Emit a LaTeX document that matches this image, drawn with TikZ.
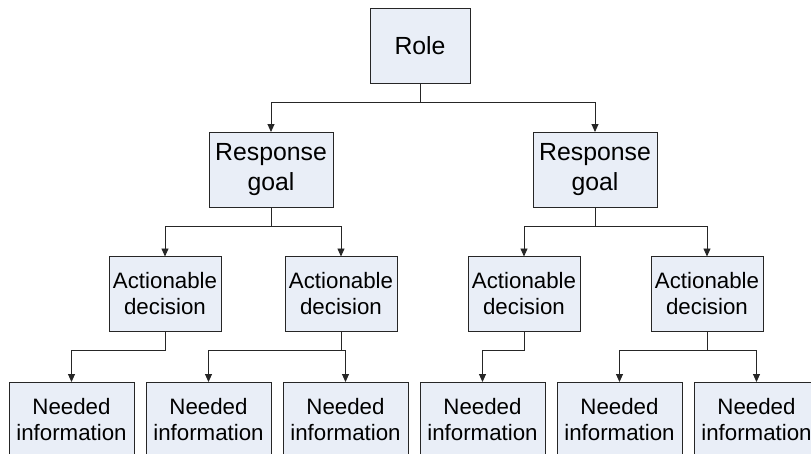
\documentclass[tikz,border=0pt]{standalone}
\usepackage{fontspec}
\setmainfont{Liberation Sans}
\usetikzlibrary{positioning,arrows.meta}
\definecolor{boxfill}{RGB}{233,238,247}
\tikzset{box/.style={draw=black!85, line width=0.9pt, fill=boxfill, align=center, inner sep=0pt, outer sep=0pt, minimum height=75pt},
  bigtext/.style={font=\fontsize{24.8}{29.5}\selectfont},
  smalltext/.style={font=\fontsize{22.3}{26}\selectfont},
  link/.style={draw=black!85, line width=0.9pt},
  arrow/.style={link, -{Triangle[width=7pt,length=8pt]}}}

\begin{document}
\begin{tikzpicture}[x=1pt,y=-1pt]
  \useasboundingbox (0,0) rectangle (811,453);
  \clip (0,0) rectangle (811,453);
  \node[box, bigtext, minimum width=100pt] (role) at (420,45.5) {Role};
  \node[box, bigtext, minimum width=124pt] (goalA) at (271,169.5) {Response\\goal};
  \node[box, bigtext, minimum width=124pt] (goalB) at (595,169.5) {Response\\goal};
  \node[box, smalltext, minimum width=112pt] (decA) at (165,294) {Actionable\\decision};
  \node[box, smalltext, minimum width=112pt] (decB) at (341,294) {Actionable\\decision};
  \node[box, smalltext, minimum width=112pt] (decC) at (524,294) {Actionable\\decision};
  \node[box, smalltext, minimum width=112pt] (decD) at (707,294) {Actionable\\decision};
  \node[box, smalltext, minimum width=125pt] (infoA) at (71.5,419.5) {Needed\\information};
  \node[box, smalltext, minimum width=125pt, right=12pt of infoA] (infoB) {Needed\\information};
  \node[box, smalltext, minimum width=125pt, right=12pt of infoB] (infoC) {Needed\\information};
  \node[box, smalltext, minimum width=125pt, right=12pt of infoC] (infoD) {Needed\\information};
  \node[box, smalltext, minimum width=125pt, right=12pt of infoD] (infoE) {Needed\\information};
  \node[box, smalltext, minimum width=125pt, right=12pt of infoE] (infoF) {Needed\\information};

  \draw[arrow] (role.south) -- ++(0,19) -| (goalA.north);
  \draw[arrow] (role.south) -- ++(0,19) -| (goalB.north);
  \draw[arrow] (goalA.south) -- ++(0,19) -| (decA.north);
  \draw[arrow] (goalA.south) -- ++(0,19) -| (decB.north);
  \draw[arrow] (goalB.south) -- ++(0,19) -| (decC.north);
  \draw[arrow] (goalB.south) -- ++(0,19) -| (decD.north);
  \draw[arrow] (decA.south) -- ++(0,19) -| (infoA.north);
  \draw[arrow] (decB.south) -- ++(0,19) -| (infoB.north);
  \draw[arrow] (decB.south) -- ++(0,19) -| (infoC.north);
  \draw[arrow] (decC.south) -- ++(0,19) -| (infoD.north);
  \draw[arrow] (decD.south) -- ++(0,19) -| (infoE.north);
  \draw[arrow] (decD.south) -- ++(0,19) -| (infoF.north);
\end{tikzpicture}
\end{document}
